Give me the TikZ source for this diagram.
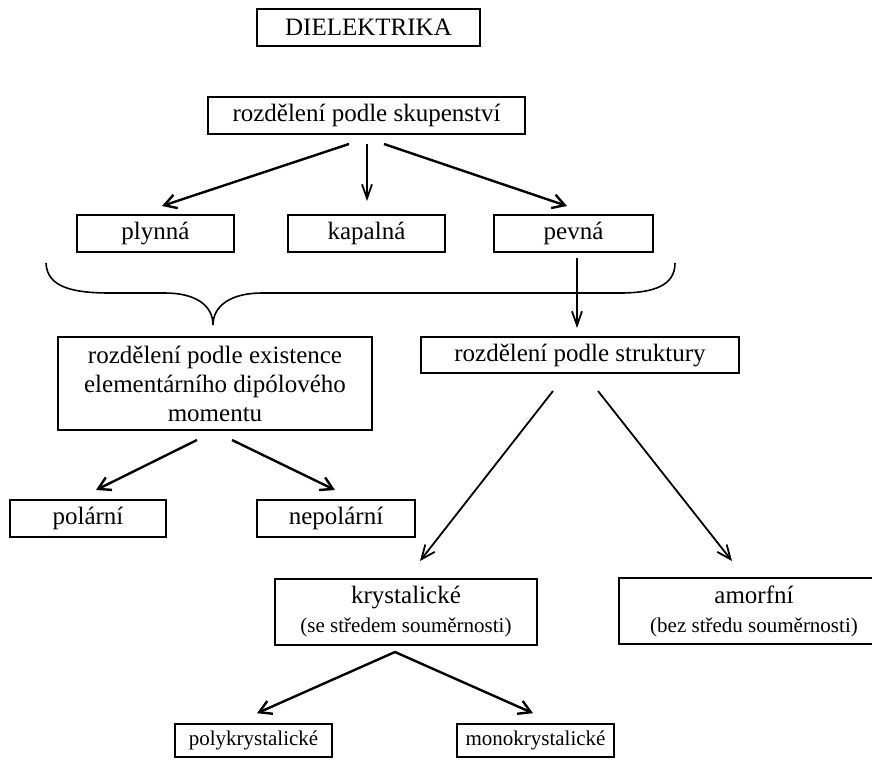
\documentclass[tikz,border=0pt]{standalone}
\usepackage{fontspec}
\setmainfont{Liberation Serif}
\usetikzlibrary{arrows.meta,calc}
\begin{document}
\begin{tikzpicture}[x=1pt,y=-1pt,
  box/.style={draw, line width=2pt, inner sep=0pt, align=center, font=\fontsize{25}{29}\selectfont},
  smallbox/.style={box, line width=1.6pt, font=\fontsize{21}{25}\selectfont},
  arr/.style={line width=2.4pt, -{Straight Barb[length=12pt,width=14pt]}},
  thinarr/.style={line width=1.8pt, -{Straight Barb[length=14pt,width=12pt]}},
  varr/.style={line width=1.8pt, -{Straight Barb[length=14pt,width=10pt]}},
]
\useasboundingbox (0,0) rectangle (872,760);
\clip (0,0) rectangle (872,760);

\node[box, minimum width=223pt, minimum height=37pt] (diel) at (368.5,27.5) {DIELEKTRIKA};
\node[box, minimum width=317pt, minimum height=37pt] (skup) at (366.5,115.5) {rozdělení podle skupenství};
\node[box, minimum width=157pt, minimum height=37pt] (plyn) at (155.5,233.5) {plynná};
\node[box, minimum width=157pt, minimum height=37pt] (kapa) at (366.5,233.5) {kapalná};
\node[box, minimum width=159pt, minimum height=37pt] (pevn) at (573.5,233.5) {pevná};
\node[box, minimum width=314pt, minimum height=93pt] (exist) at (215,383.5) {rozdělení podle existence\\elementárního dipólového\\momentu};
\node[box, minimum width=318pt, minimum height=36pt] (strukt) at (580,355) {rozdělení podle struktury};
\node[box, minimum width=156pt, minimum height=37pt] (polar) at (88,518.5) {polární};
\node[box, minimum width=158pt, minimum height=37pt] (nepol) at (336,518.5) {nepolární};
\node[box, minimum width=262pt, minimum height=66pt] (kryst) at (406,612) {krystalické\\{\fontsize{21}{29}\selectfont (se středem souměrnosti)}};
\node[box, minimum width=270pt, minimum height=66pt] (amorf) at (754,611) {amorfní\\{\fontsize{21}{29}\selectfont (bez středu souměrnosti)}};
\node[smallbox, minimum width=157pt, minimum height=33pt] (poly) at (253.5,740.5) {polykrystalické};
\node[smallbox, minimum width=157pt, minimum height=33pt] (mono) at (535.5,740.5) {monokrystalické};

% brace
\draw[line width=1.6pt] (46,263) .. controls (47,287) and (72,293) .. (110,293)
  -- (165,293) .. controls (195,293) and (213,305) .. (213,325)
  .. controls (213,305) and (232,293) .. (262,293)
  -- (620,293) .. controls (655,293) and (675,285) .. (675,263);

% arrows
\draw[arr] ($(skup.south)+(-17.5,9)$) -- ($(plyn.north)+(6.5,-8)$);
\draw[varr] ($(skup.south)+(0.5,9)$) -- ($(kapa.north)+(0.5,-13)$);
\draw[arr] ($(skup.south)+(17.5,9)$) -- ($(pevn.north)+(-6.5,-8)$);
\draw[varr] ($(pevn.south)+(3.5,5)$) -- ($(strukt.north)+(-3,-8)$);
\draw[arr] ($(exist.south)+(-18,9)$) -- ($(polar.north)+(8,-9)$);
\draw[arr] ($(exist.south)+(17,9)$) -- ($(nepol.north)+(-1,-9)$);
\draw[thinarr] ($(strukt.south)+(-27,17)$) -- ($(kryst.north)+(14,-17)$);
\draw[thinarr] ($(strukt.south)+(18,17)$) -- ($(amorf.north)+(-22,-16)$);
\draw[arr] ($(kryst.south)+(-11,6)$) -- ($(poly.north)+(3.5,-10)$);
\draw[arr] ($(kryst.south)+(-11,6)$) -- ($(mono.north)+(-2.5,-10)$);
\end{tikzpicture}
\end{document}
